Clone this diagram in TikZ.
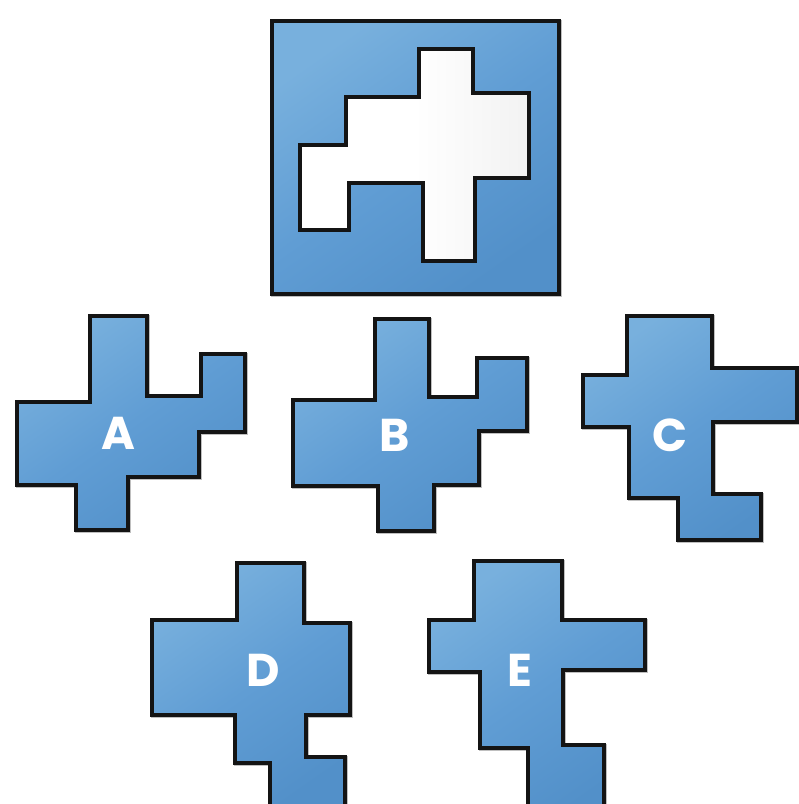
\documentclass[tikz,border=0pt]{standalone}
\usepackage{fontspec}
\newfontfamily\labelfont{Poppins}[UprightFont=* Bold]
\usepackage{tikz}

\definecolor{blueL}{RGB}{120,176,221}
\definecolor{blueM}{RGB}{96,157,212}
\definecolor{blueD}{RGB}{82,144,201}

\begin{document}
\begin{tikzpicture}[x=1pt, y=-1pt,
    shadowline/.style={draw=black!25, line width=4.5pt, transform canvas={shift={(1.2pt,-1.2pt)}}},
    piece/.style={draw=black!92, line width=3.2pt, line join=miter, top color=blueL, bottom color=blueD, middle color=blueM, shading angle=35},
    hole/.style={draw=black!92, line width=3.2pt, line join=miter, left color=white, right color=black!5, middle color=white},
    letter/.style={text=white, font=\labelfont\fontsize{46}{46}\selectfont, inner sep=0pt}]

\useasboundingbox (0,0) rectangle (799,804);
\clip (0,0) rectangle (799,804);

% Pattern with the gap
\draw[shadowline] (272,21) rectangle (559,294);
\shade[piece] (272,21) rectangle (559,294);
\shade[hole] (419,49) -- (473,49) -- (473,93) -- (529,93) -- (529,178) -- (475,178)
  -- (475,261) -- (423,261) -- (423,183) -- (349,183) -- (349,230) -- (300,230)
  -- (300,145) -- (346,145) -- (346,97) -- (419,97) -- cycle;

% Choices, first row
\shade[piece, preaction={shadowline}] (90,316) -- (147,316) -- (147,396) -- (201,396) -- (201,354) -- (245,354)
  -- (245,432) -- (199,432) -- (199,477) -- (128,477) -- (128,530) -- (76,530)
  -- (76,485) -- (17,485) -- (17,402) -- (90,402) -- cycle;
\shade[piece, preaction={shadowline}] (375,319) -- (429,319) -- (429,397) -- (477,397) -- (477,358) -- (527,358)
  -- (527,431) -- (479,431) -- (479,485) -- (434,485) -- (434,531) -- (378,531)
  -- (378,486) -- (293,486) -- (293,400) -- (375,400) -- cycle;
\shade[piece, preaction={shadowline}] (627,316) -- (712,316) -- (712,368) -- (797,368) -- (797,422) -- (713,422)
  -- (713,494) -- (761,494) -- (761,540) -- (678,540) -- (678,498) -- (629,498)
  -- (629,427) -- (583,427) -- (583,375) -- (627,375) -- cycle;

% Choices, second row
\shade[piece, preaction={shadowline}] (237,563) -- (304,563) -- (304,623) -- (350,623) -- (350,715) -- (306,715)
  -- (306,757) -- (345,757) -- (345,812) -- (270,812) -- (270,763) -- (235,763)
  -- (235,715) -- (152,715) -- (152,620) -- (237,620) -- cycle;
\shade[piece, preaction={shadowline}] (474,561) -- (562,561) -- (562,620) -- (645,620) -- (645,670) -- (563,670)
  -- (563,745) -- (604,745) -- (604,812) -- (528,812) -- (528,748) -- (480,748)
  -- (480,672) -- (429,672) -- (429,620) -- (474,620) -- cycle;

% Labels
\node[letter] (labA) at (118,433) {A};
\node[letter] (labB) at (395,435) {B};
\node[letter] (labC) at (670,435) {C};
\node[letter] (labD) at (263,670) {D};
\node[letter] (labE) at (520,670) {E};
\end{tikzpicture}
\end{document}
